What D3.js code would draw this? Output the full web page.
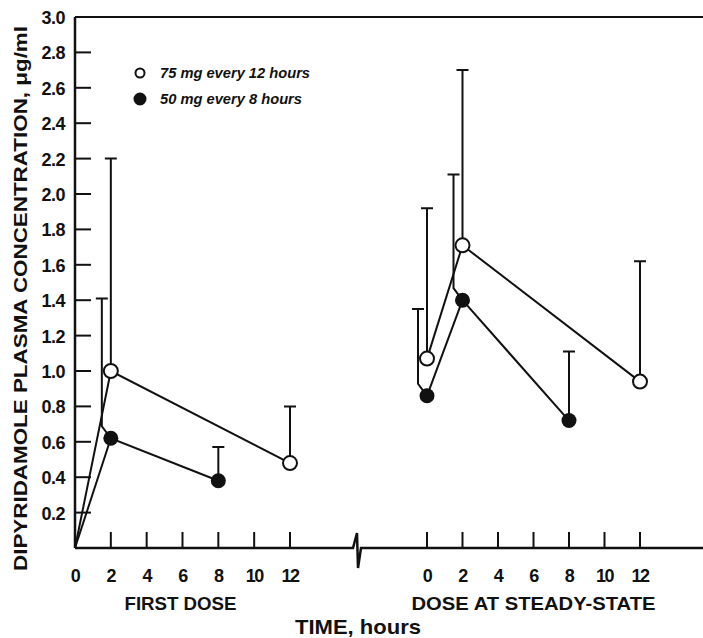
<!DOCTYPE html>
<html>
<head>
<meta charset="utf-8">
<script src="https://cdn.jsdelivr.net/npm/d3@7"></script>
<style>
  body { margin: 0; background: #fff; }
  svg { display: block; }
  text { font-family: "Liberation Sans", Arial, sans-serif; fill: #111; }
</style>
</head>
<body>
<svg width="703" height="638"></svg>
<script>
// times (hours) within each dosing panel
var hours = [0, 2, 4, 6, 8, 10, 12];
var yTicks = [0.2, 0.4, 0.6, 0.8, 1.0, 1.2, 1.4, 1.6, 1.8, 2.0, 2.2, 2.4, 2.6, 2.8, 3.0];

// 75 mg every 12 hours (open circles)
var open_first_t = [0, 2, 12];
var open_first_v = [0, 1.00, 0.48];
var open_first_hi = [null, 2.20, 0.80];
var open_ss_t = [0, 2, 12];
var open_ss_v = [1.07, 1.71, 0.94];
var open_ss_hi = [1.92, 2.70, 1.62];

// 50 mg every 8 hours (filled circles)
var filled_first_t = [0, 2, 8];
var filled_first_v = [0, 0.62, 0.38];
var filled_first_hi = [null, 1.41, 0.57];
var filled_ss_t = [0, 2, 8];
var filled_ss_v = [0.86, 1.40, 0.72];
var filled_ss_hi = [1.35, 2.11, 1.11];

var legendLabels = ["75 mg every 12 hours", "50 mg every 8 hours"];
var panelLabels = ["FIRST DOSE", "DOSE AT STEADY-STATE"];

var svg = d3.select("svg"),
    width = +svg.attr("width"),
    height = +svg.attr("height");

var y = d3.scaleLinear().domain([0, 3]).range([548, 17]);
var xFirst = d3.scaleLinear().domain([0, 12]).range([75, 290]);
var xSS = d3.scaleLinear().domain([0, 12]).range([427, 640]);
var x0 = 75, yBase = y(0), breakX = 357;

function pts(t, v, hi) {
    return t.map(function (d, i) { return { t: d, v: v[i], hi: hi[i] }; });
}

var panels = [
    { x: xFirst, open: pts(open_first_t, open_first_v, open_first_hi), filled: pts(filled_first_t, filled_first_v, filled_first_hi), label: panelLabels[0], len: 112 },
    { x: xSS, open: pts(open_ss_t, open_ss_v, open_ss_hi), filled: pts(filled_ss_t, filled_ss_v, filled_ss_hi), label: panelLabels[1], len: 244 }
];

// frame: y axis, top line, x axis with break
svg.append("line").attr("x1", x0).attr("x2", x0).attr("y1", y(3)).attr("y2", yBase)
    .attr("stroke", "#111").attr("stroke-width", 2.5);
svg.append("line").attr("x1", x0).attr("x2", width).attr("y1", y(3)).attr("y2", y(3))
    .attr("stroke", "#111").attr("stroke-width", 2);
svg.append("path")
    .attr("d", "M" + x0 + "," + yBase + "H" + (breakX - 4) + "L" + breakX + "," + (yBase - 15)
        + "L" + (breakX + 1) + "," + (yBase + 20) + "L" + (breakX + 4) + "," + yBase + "H" + width)
    .attr("fill", "none").attr("stroke", "#111").attr("stroke-width", 2.5);

// y ticks (inward) and labels
svg.selectAll(".ytick").data(yTicks).enter().append("line")
    .attr("x1", x0).attr("x2", x0 + 16)
    .attr("y1", function (d) { return y(d); }).attr("y2", function (d) { return y(d); })
    .attr("stroke", "#111").attr("stroke-width", 2);
svg.selectAll(".ylab").data(yTicks).enter().append("text")
    .attr("x", 65).attr("y", function (d) { return y(d) + 7; })
    .attr("text-anchor", "end").attr("font-size", 18).attr("font-weight", "bold")
    .attr("letter-spacing", -0.5)
    .text(function (d) { return d.toFixed(1); });

svg.append("text")
    .attr("transform", "translate(27," + ((y(3) + yBase) / 2 + 16) + ") rotate(-90)")
    .attr("text-anchor", "middle").attr("font-size", 18).attr("font-weight", "bold")
    .attr("textLength", 545).attr("lengthAdjust", "spacingAndGlyphs")
    .text("DIPYRIDAMOLE PLASMA CONCENTRATION, \u03bcg/ml");

var line = d3.line();

panels.forEach(function (p, pi) {
    var x = p.x;
    // x ticks and labels
    svg.selectAll(".xt" + pi).data(hours.filter(function (h) { return pi === 1 || h > 0; }))
        .enter().append("line")
        .attr("x1", function (d) { return x(d); }).attr("x2", function (d) { return x(d); })
        .attr("y1", yBase).attr("y2", yBase - 16)
        .attr("stroke", "#111").attr("stroke-width", 2);
    svg.selectAll(".xl" + pi).data(hours).enter().append("text")
        .attr("x", function (d) { return x(d); }).attr("y", yBase + 34)
        .attr("text-anchor", "middle").attr("font-size", 18).attr("font-weight", "bold")
        .attr("letter-spacing", -1.5)
        .text(function (d) { return d; });
    svg.append("text")
        .attr("x", (x(0) + x(12)) / 2 + (pi === 0 ? -2 : 0)).attr("y", yBase + 62)
        .attr("text-anchor", "middle").attr("font-size", 19).attr("font-weight", "bold")
        .attr("textLength", p.len).attr("lengthAdjust", "spacingAndGlyphs")
        .text(p.label);

    // connecting lines
    [p.open, p.filled].forEach(function (s) {
        svg.append("path")
            .attr("d", line(s.map(function (d) { return [x(d.t), y(d.v)]; })))
            .attr("fill", "none").attr("stroke", "#111").attr("stroke-width", 2);
    });

    // open series error bars: straight up
    p.open.filter(function (d) { return d.hi != null; }).forEach(function (d) {
        var cx = x(d.t);
        svg.append("path")
            .attr("d", "M" + cx + "," + (y(d.v) - 6) + "V" + y(d.hi) + "M" + (cx - 6) + "," + y(d.hi) + "H" + (cx + 6))
            .attr("fill", "none").attr("stroke", "#111").attr("stroke-width", 2);
    });

    // filled series error bars: offset left with a hook when an open point shares the time
    p.filled.filter(function (d) { return d.hi != null; }).forEach(function (d) {
        var cx = x(d.t), cy = y(d.v);
        var shared = p.open.some(function (o) { return o.t === d.t && o.hi != null; });
        var bx = shared ? cx - 9 : cx;
        var path = shared
            ? "M" + cx + "," + cy + "L" + bx + "," + (cy - 12) + "V" + y(d.hi)
            : "M" + cx + "," + cy + "V" + y(d.hi);
        path += "M" + (bx - 6) + "," + y(d.hi) + "H" + (bx + 6);
        svg.append("path").attr("d", path)
            .attr("fill", "none").attr("stroke", "#111").attr("stroke-width", 2);
    });

    // markers
    svg.selectAll(".om" + pi).data(p.open.filter(function (d) { return d.v > 0; }))
        .enter().append("circle")
        .attr("cx", function (d) { return x(d.t); }).attr("cy", function (d) { return y(d.v); })
        .attr("r", 7).attr("fill", "#fff").attr("stroke", "#111").attr("stroke-width", 2);
    svg.selectAll(".fm" + pi).data(p.filled.filter(function (d) { return d.v > 0; }))
        .enter().append("circle")
        .attr("cx", function (d) { return x(d.t); }).attr("cy", function (d) { return y(d.v); })
        .attr("r", 7.5).attr("fill", "#111");
});

svg.append("text")
    .attr("x", breakX + 1).attr("y", 634)
    .attr("text-anchor", "middle").attr("font-size", 21).attr("font-weight", "bold")
    .attr("textLength", 126).attr("lengthAdjust", "spacingAndGlyphs")
    .text("TIME, hours");

// legend
var legendLen = [150, 142];
var legend = svg.selectAll(".legend").data(legendLabels).enter().append("g")
    .attr("transform", function (d, i) { return "translate(140," + (73 + i * 26) + ")"; });
legend.append("circle")
    .attr("r", function (d, i) { return i === 0 ? 4.5 : 5.5; })
    .attr("fill", function (d, i) { return i === 0 ? "#fff" : "#111"; })
    .attr("stroke", "#111").attr("stroke-width", 2);
legend.append("text")
    .attr("x", 20).attr("y", 5)
    .attr("font-size", 14).attr("font-weight", "bold").attr("font-style", "italic")
    .attr("textLength", function (d, i) { return legendLen[i]; }).attr("lengthAdjust", "spacingAndGlyphs")
    .text(function (d) { return d; });
</script>
</body>
</html>
